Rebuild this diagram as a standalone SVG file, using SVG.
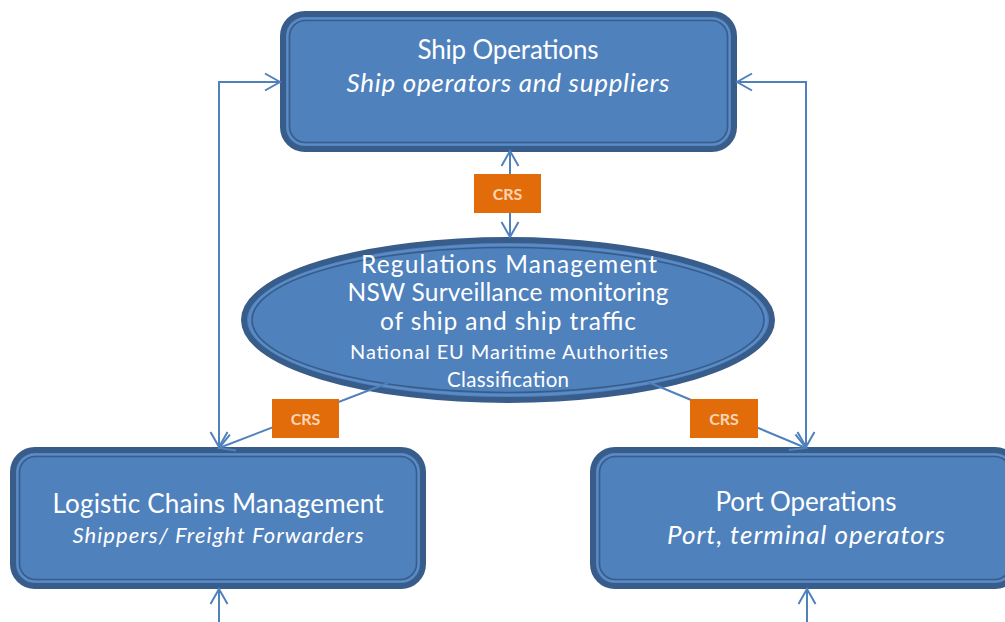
<svg xmlns="http://www.w3.org/2000/svg" width="1005" height="622" viewBox="0 0 1005 622">
  <style>
    .frame { fill: #4F81BD; stroke: #385D8A; stroke-width: 6; }
    .inner { fill: none; stroke: #385D8A; stroke-width: 1.6; }
    .band  { fill: none; stroke: #5B8CC8; stroke-width: 2; }
    .label { font-family: Lato, "Liberation Sans", sans-serif; fill: #FFFFFF; text-anchor: middle; }
    .it    { font-style: italic; }
    .link  { fill: none; stroke: #4F81BD; stroke-width: 2; }
    .crs   { fill: #E36C0A; }
    .crs-t { font-family: Lato, "Liberation Sans", sans-serif; font-weight: bold; font-size: 16px; fill: #FBD5B5; text-anchor: middle; }
  </style>
  <defs>
    <marker id="open-arrow" markerUnits="userSpaceOnUse" markerWidth="20" markerHeight="20" refX="0" refY="0" viewBox="-16 -10 18 20" orient="auto-start-reverse">
      <path d="M-15,-8.5 L0,0 L-15,8.5" fill="none" stroke="#4F81BD" stroke-width="2"/>
    </marker>
  </defs>

  <rect width="1005" height="622" fill="#FFFFFF"/>

  <g id="ship-operations">
    <rect class="frame" x="283" y="14" width="451" height="135" rx="22"/>
    <rect class="band" x="287.5" y="18.5" width="442" height="126" rx="18"/>
    <rect class="inner" x="289.5" y="20.5" width="438" height="122" rx="16"/>
    <text class="label" x="508" y="59" font-size="26" textLength="181">Ship Operations</text>
    <text class="label it" x="508" y="92" font-size="26" textLength="323">Ship operators and suppliers</text>
  </g>

  <g id="regulations-management">
    <ellipse class="frame" cx="508" cy="320" rx="264" ry="80" stroke-width="7"/>
    <ellipse class="band" cx="508" cy="320" rx="258.5" ry="75"/>
    <ellipse class="inner" cx="508" cy="320" rx="256" ry="72.5"/>
    <text class="label" x="509" y="273" font-size="24.5" textLength="296">Regulations Management</text>
    <text class="label" x="508" y="301" font-size="24.5" textLength="321">NSW Surveillance  monitoring</text>
    <text class="label" x="508" y="330" font-size="24.5" textLength="256">of ship and ship traffic</text>
    <text class="label" x="509" y="359" font-size="20" textLength="318">National EU Maritime Authorities</text>
    <text class="label" x="508" y="387" font-size="20.5" textLength="122">Classification</text>
  </g>

  <g id="logistic-chains">
    <rect class="frame" x="13" y="450" width="410" height="136" rx="22"/>
    <rect class="band" x="17.5" y="454.5" width="401" height="127" rx="18"/>
    <rect class="inner" x="19.5" y="456.5" width="397" height="123" rx="16"/>
    <text class="label" x="218" y="513" font-size="26" textLength="331">Logistic Chains Management</text>
    <text class="label it" x="218" y="543" font-size="22" textLength="291">Shippers/ Freight Forwarders</text>
  </g>

  <g id="port-operations">
    <rect class="frame" x="593" y="450" width="424" height="136" rx="22"/>
    <rect class="band" x="597.5" y="454.5" width="415" height="127" rx="18"/>
    <rect class="inner" x="599.5" y="456.5" width="411" height="123" rx="16"/>
    <text class="label" x="806" y="511" font-size="26" textLength="181">Port Operations</text>
    <text class="label it" x="806" y="544" font-size="26" textLength="278">Port, terminal operators</text>
  </g>

  <g id="connectors">
    <path class="link" d="M219,447 V82 H280" marker-start="url(#open-arrow)" marker-end="url(#open-arrow)"/>
    <path class="link" d="M737,82 H806 V447" marker-start="url(#open-arrow)" marker-end="url(#open-arrow)"/>
    <path class="link" d="M510,151 V237" marker-start="url(#open-arrow)" marker-end="url(#open-arrow)"/>
    <path class="link" d="M388,383 L219,448" marker-end="url(#open-arrow)"/>
    <path class="link" d="M648,382 L806,448" marker-end="url(#open-arrow)"/>
    <path class="link" d="M219,622 V589" marker-end="url(#open-arrow)"/>
    <path class="link" d="M807,622 V589" marker-end="url(#open-arrow)"/>
  </g>

  <g id="crs-labels">
    <rect class="crs" x="474" y="174" width="67" height="39"/>
    <text class="crs-t" x="507.5" y="199.5">CRS</text>
    <rect class="crs" x="272" y="399" width="67" height="39"/>
    <text class="crs-t" x="305.5" y="424.5">CRS</text>
    <rect class="crs" x="690" y="399" width="68" height="39"/>
    <text class="crs-t" x="724" y="424.5">CRS</text>
  </g>
</svg>
